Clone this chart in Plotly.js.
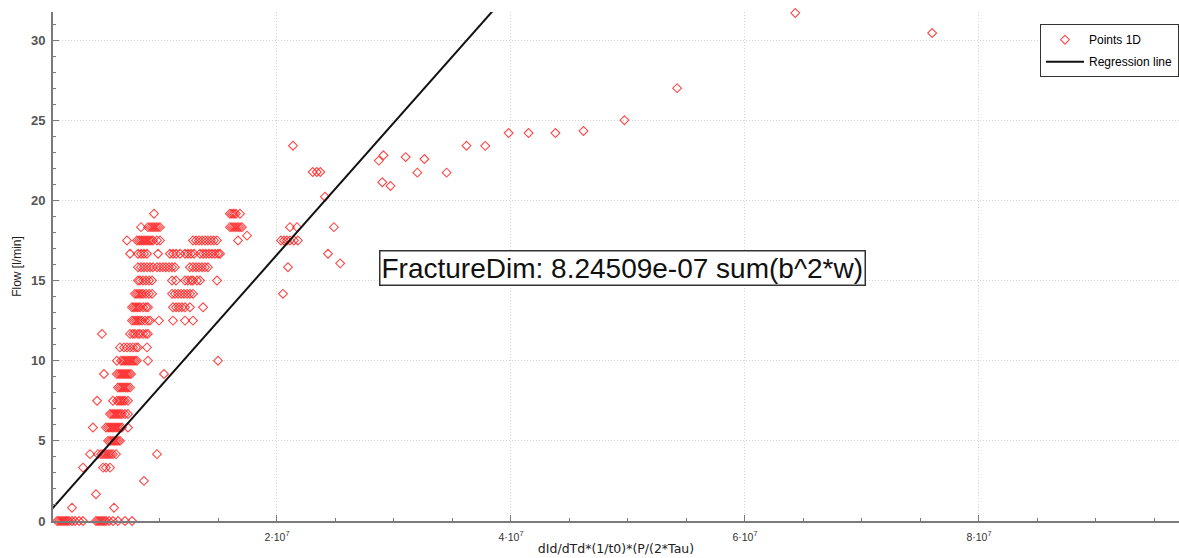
<!DOCTYPE html>
<html>
<head>
<meta charset="utf-8">
<script src="https://cdn.plot.ly/plotly-3.0.1.min.js"></script>
<style>html,body{margin:0;padding:0;background:#fff;}#chart{width:1179px;height:558px;}</style>
</head>
<body>
<div id="chart"></div>
<script>
// x values are read in millions (1e6) of dId/dTd*(1/t0)*(P/(2*Tau))
const X_UNIT = 1e6;

// Flow levels (l/min) and the x values (in millions) of the points sitting on each level
const flowLevels = [0, 0.83, 1.67, 2.5, 3.33, 4.17, 5.0, 5.83, 6.67, 7.5, 8.33, 9.17, 10.0, 10.83, 11.67, 12.5, 13.33, 14.17, 15.0, 15.83, 16.67, 17.5, 18.33, 19.17];
const xByLevel = [
  [1.20, 1.37, 1.54, 1.71, 1.88, 2.05, 2.22, 2.48, 2.74, 3.08, 3.42, 4.53, 4.70, 4.87, 5.04, 5.21, 5.38, 5.64, 5.98, 6.41, 7.01, 7.61],
  [2.48, 6.07],
  [4.53],
  [8.63],
  [3.42, 5.13, 5.38, 5.73],
  [4.02, 4.70, 4.96, 5.13, 5.30, 5.47, 5.64, 5.81, 5.98, 6.24, 9.74],
  [5.56, 5.73, 5.90, 6.07, 6.24, 6.41, 6.58],
  [4.27, 5.38, 5.56, 5.73, 5.90, 6.07, 6.24, 6.41, 6.58, 6.75, 7.26],
  [5.73, 5.90, 6.07, 6.24, 6.41, 6.58, 6.75, 7.01, 7.26],
  [4.62, 5.98, 6.32, 6.50, 6.67, 6.84, 7.01, 7.26],
  [6.41, 6.58, 6.75, 6.92, 7.09, 7.26, 7.44],
  [5.21, 6.32, 6.50, 6.67, 6.84, 7.01, 7.18, 7.35, 7.52, 10.34],
  [6.32, 6.67, 6.84, 7.01, 7.18, 7.35, 7.52, 7.69, 7.86, 8.03, 8.97, 14.96],
  [6.58, 6.92, 7.18, 7.44, 7.69, 7.95, 8.12, 8.89],
  [5.04, 7.44, 7.69, 7.86, 8.12, 8.29, 8.55, 8.80, 8.97],
  [7.61, 7.78, 7.95, 8.12, 8.29, 8.46, 8.72, 8.97, 9.15, 9.91, 11.11, 12.14, 12.82],
  [7.61, 7.78, 7.95, 8.12, 8.29, 8.55, 8.80, 8.97, 11.11, 11.37, 11.62, 11.88, 12.14, 12.56, 13.68],
  [7.86, 8.03, 8.21, 8.38, 8.55, 8.80, 9.06, 9.32, 11.03, 11.28, 11.54, 11.80, 12.05, 12.31, 12.56, 12.82, 20.51],
  [8.12, 8.29, 8.55, 8.80, 9.06, 9.32, 11.03, 11.37, 12.14, 12.39, 12.65, 12.82, 13.16, 13.42, 14.87],
  [8.12, 8.38, 8.63, 8.89, 9.15, 9.40, 9.74, 10.0, 10.26, 10.51, 10.77, 11.03, 11.28, 12.56, 12.82, 13.08, 13.33, 13.59, 13.85, 14.10, 20.94],
  [7.44, 8.12, 8.38, 8.63, 8.89, 9.83, 10.85, 11.11, 11.37, 11.71, 12.14, 12.39, 12.65, 12.91, 13.42, 13.68, 13.93, 14.19, 14.44, 14.70, 14.96, 15.13, 24.36],
  [7.18, 8.03, 8.21, 8.38, 8.55, 8.72, 8.89, 9.06, 9.23, 9.40, 9.74, 10.0, 12.82, 13.08, 13.33, 13.59, 13.85, 14.10, 14.36, 14.61, 14.87, 16.67, 20.34, 20.60, 20.85, 21.11, 21.45, 21.79],
  [8.38, 8.97, 9.15, 9.32, 9.49, 9.66, 9.83, 10.0, 15.98, 16.15, 16.32, 16.49, 16.67, 16.84, 17.01, 21.11, 21.71, 24.87],
  [9.49, 15.98, 16.15, 16.32, 16.49, 16.84]
];

// Scattered points off the regular levels (x in millions, flow in l/min)
const extraX    = [17.44, 21.37, 23.05, 23.4, 23.7, 24.1, 25.4, 28.7, 29.1, 31.0, 32.6, 36.2, 29.0, 29.7, 32.0, 34.5, 37.8, 39.8, 41.5, 43.8, 46.2, 49.7, 54.2, 64.3, 76.0];
const extraFlow = [17.8, 23.41, 21.77, 21.77, 21.77, 20.23, 16.07, 22.48, 22.81, 22.7, 22.58, 23.41, 21.13, 20.9, 21.73, 21.73, 23.4, 24.2, 24.2, 24.2, 24.33, 25.0, 27.0, 31.69, 30.44];

// Regression line: Flow = slope * x + intercept
const regSlope = 8.24509e-07;
const regIntercept = 0.12;
const regX = [0, 40e6];

const xTickVals = [2e7, 4e7, 6e7, 8e7];
const xTickText = ['2·10<sup>7</sup>', '4·10<sup>7</sup>', '6·10<sup>7</sup>', '8·10<sup>7</sup>'];

const annotationText = 'FractureDim: 8.24509e-07 sum(b^2*w)';

// build point arrays
const px = [], py = [];
flowLevels.forEach((lv, i) => {
  xByLevel[i].forEach(v => { px.push(v * X_UNIT); py.push(lv); });
});
extraX.forEach((v, i) => { px.push(v * X_UNIT); py.push(extraFlow[i]); });

const regY = regX.map(x => regSlope * x + regIntercept);

const font = 'Liberation Sans, Arial, sans-serif';
const font2 = 'DejaVu Sans, sans-serif';

const traces = [
  {
    x: px, y: py, type: 'scatter', mode: 'markers', name: 'Points 1D',
    legendgroup: 'pts', cliponaxis: false,
    marker: {symbol: 'diamond-open', size: 6.8, color: '#ff1a1a', line: {width: 1.1, color: '#ff1a1a'}, opacity: 0.8}
  },
  {
    x: regX, y: regY, type: 'scatter', mode: 'lines', name: 'Regression line',
    legendgroup: 'reg',
    line: {color: '#111', width: 2}
  }
];

const axisCommon = {
  showline: true, linecolor: '#7a7a7a', linewidth: 2,
  ticks: 'inside', ticklen: 6, tickcolor: '#7a7a7a', tickwidth: 1,
  showgrid: true, gridcolor: '#d4d4d4', griddash: '1px,2px', gridwidth: 1,
  zeroline: false, mirror: false
};

const layout = {
  width: 1179, height: 558,
  margin: {l: 53, r: 0, t: 12, b: 37},
  paper_bgcolor: '#fff', plot_bgcolor: '#fff',
  showlegend: true,
  legend: {
    x: 1, xanchor: 'right', y: 0.976, yanchor: 'top',
    bgcolor: '#fff', bordercolor: '#333', borderwidth: 1,
    font: {family: font, size: 12, color: '#000'},
    itemwidth: 38,
    traceorder: 'grouped', tracegroupgap: 3
  },
  xaxis: Object.assign({}, axisCommon, {
    range: [0.0855e7, 9.71e7],
    tickmode: 'array', tickvals: xTickVals, ticktext: xTickText,
    tickfont: {family: font, size: 10.5, color: '#333'},
    ticklabelstandoff: 5,
    minor: {dtick: 5e6, tick0: 0, ticks: 'inside', ticklen: 3, tickcolor: '#7a7a7a', showgrid: false},
    title: {text: 'dId/dTd*(1/t0)*(P/(2*Tau)', font: {family: font2, size: 12.5, color: '#222'}, standoff: 3}
  }),
  yaxis: Object.assign({}, axisCommon, {
    range: [0, 31.75],
    tickmode: 'linear', tick0: 0, dtick: 5,
    tickfont: {family: font, size: 13, color: '#555', weight: 'bold'},
    ticklabelstandoff: 3,
    minor: {dtick: 1, tick0: 0, ticks: 'inside', ticklen: 3, tickcolor: '#7a7a7a', showgrid: false},
    title: {text: 'Flow [l/min]', font: {family: font, size: 12, color: '#222'}, standoff: 7}
  }),
  annotations: [{
    xref: 'paper', yref: 'paper', x: 0.5058, y: 0.497, xanchor: 'center', yanchor: 'middle',
    text: annotationText, showarrow: false,
    font: {family: font, size: 28, color: '#111'},
    bgcolor: '#fff', bordercolor: '#333', borderwidth: 1.5, borderpad: 1
  }]
};

Plotly.newPlot('chart', traces, layout, {displayModeBar: false, staticPlot: true});
</script>
</body>
</html>
